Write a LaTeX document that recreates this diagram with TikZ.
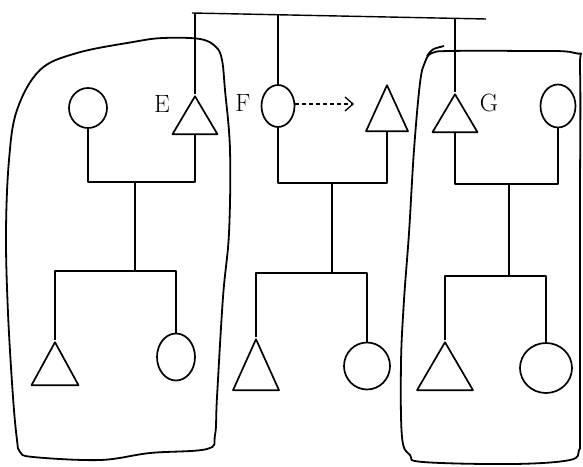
\documentclass[tikz,border=0pt]{standalone}
\usetikzlibrary{shapes.geometric,arrows.meta}
\begin{document}
\begin{tikzpicture}[x=1pt,y=-1pt,line width=1.7pt,line join=round,
  fem/.style={draw,ellipse,inner sep=0pt},
  mal/.style={draw,isosceles triangle,isosceles triangle stretches,shape border rotate=90,inner sep=0pt,anchor=apex},
  lbl/.style={font=\fontsize{25}{25}\selectfont,inner sep=0pt},
  boxline/.style={line width=1.8pt}]
\useasboundingbox (0,0) rectangle (583,466);
% left family
\node[fem,minimum width=38pt,minimum height=40pt] (c1) at (88,108) {};
\node[mal,minimum width=45pt,minimum height=38pt] (tE) at (195,94) {};
\node[lbl] (lE) at (162,104) {E};
\coordinate (m1) at (135,182);
\coordinate (s1) at (135,271);
\node[mal,minimum width=47pt,minimum height=43pt] (t1) at (55,340) {};
\node[fem,minimum width=38pt,minimum height=47pt] (c2) at (176,357) {};
\draw (c1.south) |- (m1) -| (tE.south);
\draw (m1) -- (s1);
\draw (t1.apex) |- (s1) -| (c2.north);
% middle family
\node[fem,minimum width=33pt,minimum height=42pt] (cF) at (278,106) {};
\node[lbl] (lF) at (243,103) {F};
\node[mal,minimum width=42pt,minimum height=46pt] (tM) at (387,83) {};
\coordinate (m2) at (332,183);
\coordinate (s2) at (332,273);
\node[mal,minimum width=46pt,minimum height=51pt] (t2) at (256,337) {};
\node[fem,minimum width=46pt,minimum height=47pt] (c4) at (367,366) {};
\draw (cF.south) |- (m2) -| (tM.south);
\draw (m2) -- (s2);
\draw (t2.apex) |- (s2) -| (c4.north);
\coordinate (arr) at (354,104);
\draw[line width=1.3pt,dash pattern=on 4pt off 3pt,-{Straight Barb[length=8pt,width=14pt]}] (cF.east |- arr) -- (arr);
% right family
\node[mal,minimum width=45pt,minimum height=38pt] (tG) at (455,92) {};
\node[lbl] (lG) at (489,103) {G};
\node[fem,minimum width=35pt,minimum height=43pt] (cG) at (558,106) {};
\coordinate (m3) at (509,184);
\coordinate (s3) at (509,276);
\node[mal,minimum width=56pt,minimum height=48pt] (t3) at (445,340) {};
\node[fem,minimum width=52pt,minimum height=50pt] (c3) at (546,368) {};
\draw (tG.south) |- (m3) -| (cG.south);
\draw (m3) -- (s3);
\draw (t3.apex) |- (s3) -| (c3.north);
% top line
\coordinate (tl) at (192,13);
\coordinate (tr) at (486,19);
\coordinate (top1) at (195,13);
\coordinate (top2) at (278,15);
\coordinate (top3) at (455,18.5);
\draw[line width=1.4pt] (tl) -- (tr);
\draw (top1) -- (tE.apex);
\draw (top2) -- (cF.north);
\draw (top3) -- (tG.apex);
% boxes
\draw[boxline] plot[smooth cycle,tension=0.6] coordinates {(40,70) (77,53) (133,42) (163,38) (200,39) (216,47) (222,60) (225,90) (230,150) (229,233) (223,297) (217,397) (215,435) (207,449) (150,453) (100,460) (33,457) (20,452) (17,440) (13,397) (8,313) (6,233) (9,160) (17,110)};
\draw[boxline] plot[smooth cycle,tension=0.6] coordinates {(580,70) (575,53) (520,51) (450,51) (432,53) (425,62) (420,83) (414,150) (409,233) (404,300) (401,363) (402,437) (410,455) (423,462) (513,464) (570,460) (579,450) (580,437) (580,347) (580,200)};
\draw[boxline] (427,56) .. controls (432,49) .. (444,46);
\end{tikzpicture}
\end{document}
